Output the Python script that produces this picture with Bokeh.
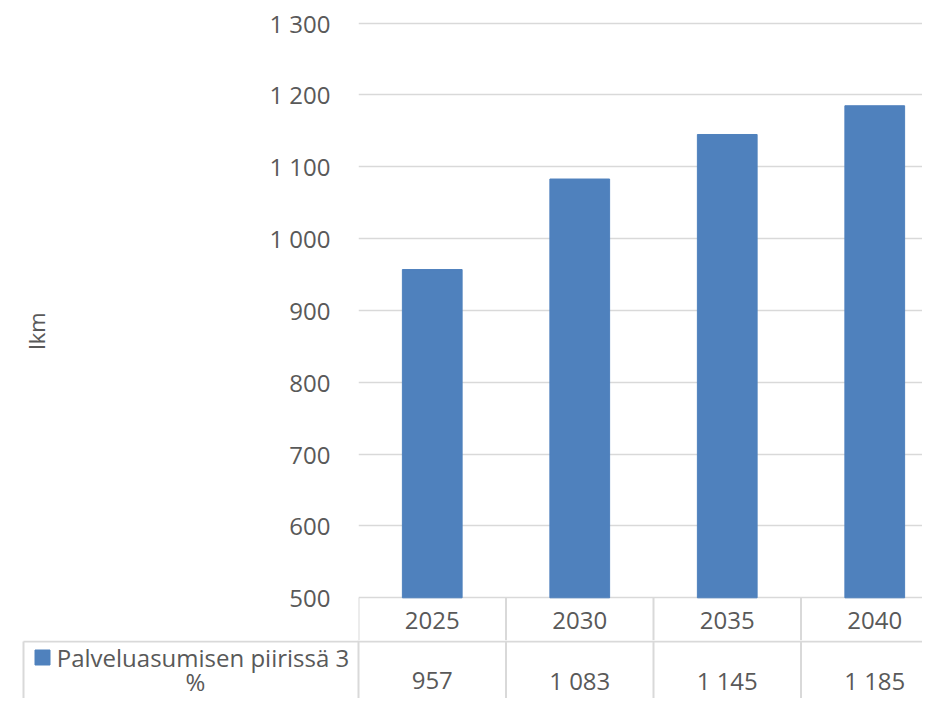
from bokeh.plotting import figure
from bokeh.models import Range1d, FixedTicker
from bokeh.layouts import column
from bokeh.core.properties import value
from bokeh.embed import file_html
from bokeh.resources import INLINE

# ---- data ----
years = ["2025", "2030", "2035", "2040"]
counts = [957, 1083, 1145, 1185]
series_name = "Palveluasumisen piirissä 3 %"
y_ticks = [500, 600, 700, 800, 900, 1000, 1100, 1200, 1300]
y_label = "lkm"

# ---- styling ----
FONT = value("Open Sans")
TXT = "#595959"
GRID = "#D9D9D9"
BAR = "#4F81BD"
FS = "24px"


def fmt(n):
    return f"{n:,}".replace(",", " ")


W = 922
LEFT = 358          # frame left (px)
COL = 147.5         # px per category column
PX = 0.7183         # px per y unit
TOP = 21            # frame top (px)
AXIS_Y = 597.3      # pixel row of the value-axis minimum
ROW1 = 640          # bottom of year header row (px)
xs = [i + 0.5 for i in range(len(years))]
x_end = (W - LEFT) / COL
ymin = y_ticks[0]
y_lo = ymin - (ROW1 - AXIS_Y) / PX
y_hi = ymin + (AXIS_Y - TOP) / PX

# ---- top chart (with year header row) ----
p = figure(width=W, height=ROW1, output_backend="svg", toolbar_location=None,
           x_range=Range1d(0, x_end), y_range=Range1d(y_lo, y_hi),
           min_border_left=LEFT, min_border_right=0, min_border_top=TOP,
           min_border_bottom=0)
p.frame_align = False
p.outline_line_color = None
p.xaxis.visible = False
p.xgrid.grid_line_color = None
p.ygrid.grid_line_color = GRID
p.ygrid.grid_line_width = 1.6

p.vbar(x=xs, top=counts, bottom=ymin, width=0.405, color=BAR)

# header row: separators and year labels
bounds = list(range(len(years)))
p.segment(x0=bounds, y0=[ymin] * len(bounds), x1=bounds, y1=[y_lo] * len(bounds),
          line_color=GRID, line_width=2)
p.text(x=xs, y=[ymin - (620 - AXIS_Y) / PX] * len(years), text=years, text_font=FONT,
       text_font_size=FS, text_color=TXT, text_align="center", text_baseline="middle")

ax = p.yaxis[0]
ax.ticker = FixedTicker(ticks=y_ticks)
ax.major_label_overrides = {t: fmt(t) for t in y_ticks}
ax.axis_line_color = None
ax.major_tick_line_color = None
ax.minor_tick_line_color = None
ax.major_tick_out = 0
ax.major_tick_in = 0
ax.major_label_standoff = 28
ax.major_label_text_font = "Open Sans"
ax.major_label_text_font_size = FS
ax.major_label_text_color = TXT
ax.axis_label = y_label
ax.axis_label_text_font = "Open Sans"
ax.axis_label_text_font_size = "22px"
ax.axis_label_text_font_style = "normal"
ax.axis_label_text_color = TXT
ax.axis_label_standoff = 215

# ---- data row below ----
H2 = 58
t = figure(width=W, height=H2, output_backend="svg", toolbar_location=None,
           x_range=Range1d(-LEFT / COL, x_end), y_range=Range1d(H2, 0),
           x_axis_type=None, y_axis_type=None, min_border=0)
t.frame_align = False
t.outline_line_color = None

cell_left = (23 - LEFT) / COL
t.segment(x0=bounds, y0=[0] * len(bounds), x1=bounds, y1=[H2] * len(bounds),
          line_color=GRID, line_width=2)
t.segment(x0=[cell_left], y0=[1], x1=[cell_left], y1=[H2], line_color=GRID, line_width=2)
t.segment(x0=[cell_left], y0=[1], x1=[x_end], y1=[1], line_color=GRID, line_width=2)

t.text(x=xs, y=[40] * len(counts), text=[fmt(c) for c in counts], text_font=FONT,
       text_font_size=FS, text_color=TXT, text_align="center", text_baseline="middle")

name_lines = series_name.rsplit(" ", 1)
t.text(x=[(202.5 - LEFT) / COL, (195 - LEFT) / COL], y=[17, 41], text=name_lines,
       text_font=FONT, text_font_size=FS, text_color=TXT, text_align="center",
       text_baseline="middle")
t.scatter(x=[(42 - LEFT) / COL], y=[17], marker="square", size=15, color=BAR)

layout = column(p, t, spacing=0)
open("out.html", "w").write(file_html(layout, INLINE))
